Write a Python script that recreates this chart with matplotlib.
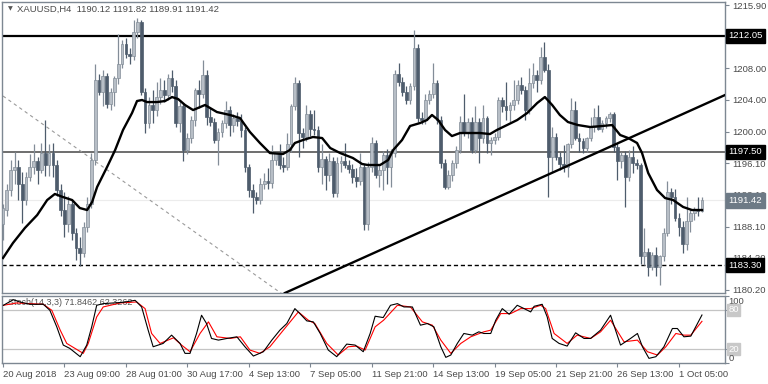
import matplotlib
matplotlib.use("Agg")
import matplotlib.pyplot as plt
import numpy as np
from matplotlib.transforms import blended_transform_factory

plt.rcParams['font.family'] = ['Liberation Sans', 'DejaVu Sans']

# ---------------- data (XAUUSD H4) ----------------
opens = [
    1188.5, 1190.2, 1192.7, 1195.2, 1195.6, 1193.5, 1191.5, 1194.4, 1195.6, 1196.3,
    1195.2, 1197.3, 1195.8, 1197.3, 1195.8, 1192.7, 1190.2, 1188.5, 1191.0, 1187.3,
    1185.4, 1184.8, 1188.1, 1191.0, 1196.5, 1206.5, 1205.0, 1207.0, 1203.5, 1205.0,
    1206.8, 1208.5, 1211.0, 1209.8, 1209.5, 1212.5, 1213.8, 1205.0, 1201.1, 1203.4,
    1202.7, 1204.4, 1205.2, 1204.6, 1206.7, 1205.7, 1201.1, 1203.2, 1197.7, 1199.2,
    1201.5, 1205.2, 1204.8, 1207.1, 1201.9, 1201.3, 1199.0, 1200.0, 1201.1, 1202.7,
    1200.9, 1201.7, 1201.4, 1200.2, 1195.6, 1192.7, 1191.9, 1191.5, 1193.5, 1193.8,
    1193.6, 1196.5, 1197.3, 1195.8, 1195.6, 1198.5, 1203.2, 1206.1, 1199.8, 1199.4,
    1202.3, 1200.4, 1200.2, 1195.6, 1196.6, 1194.6, 1196.3, 1192.3, 1196.1, 1196.4,
    1195.9, 1195.4, 1194.3, 1193.8, 1195.6, 1188.5, 1195.6, 1198.6, 1194.6, 1195.2,
    1197.1, 1195.6, 1197.3, 1207.3, 1206.3, 1205.0, 1204.0, 1205.7, 1210.5, 1201.7,
    1201.5, 1204.0, 1204.8, 1206.1, 1201.5, 1196.1, 1193.1, 1194.6, 1196.1, 1197.7,
    1201.3, 1199.8, 1201.3, 1197.7, 1201.3, 1199.2, 1201.7, 1198.6, 1199.0, 1199.4,
    1204.0, 1203.2, 1202.7, 1203.4, 1204.0, 1205.9, 1205.3, 1202.7, 1206.1, 1207.1,
    1206.5, 1209.4, 1207.8, 1196.9, 1199.4, 1196.9, 1196.0, 1195.6, 1198.5, 1202.7,
    1199.2, 1198.8, 1198.0, 1199.2, 1200.6, 1201.9, 1200.4, 1201.1, 1201.7, 1202.3,
    1198.1, 1196.3, 1197.1, 1194.4, 1196.9, 1196.1, 1195.8, 1184.4, 1185.0, 1183.1,
    1184.6, 1183.1, 1184.4, 1187.3, 1192.5, 1191.9, 1189.2, 1188.1, 1186.0, 1188.8,
    1189.8, 1190.2, 1190.12,
]
highs = [
    1191.0, 1193.5, 1196.5, 1197.5, 1196.5, 1195.0, 1195.0, 1197.2, 1198.5, 1196.8,
    1198.6, 1201.5, 1198.5, 1198.6, 1196.5, 1193.5, 1192.5, 1192.0, 1191.5, 1188.0,
    1186.8, 1188.7, 1191.9, 1197.3, 1208.5, 1207.2, 1207.7, 1207.4, 1205.5, 1207.0,
    1212.3, 1211.5, 1211.8, 1210.5, 1214.0, 1214.3, 1214.0, 1205.5, 1204.4, 1205.2,
    1206.3, 1206.7, 1206.5, 1207.3, 1207.8, 1206.5, 1204.0, 1203.6, 1199.8, 1202.0,
    1205.5, 1206.5, 1209.0, 1207.8, 1203.0, 1201.8, 1200.5, 1201.5, 1203.9, 1203.2,
    1202.3, 1202.5, 1202.3, 1200.6, 1196.0, 1193.5, 1192.5, 1194.2, 1194.8, 1195.5,
    1198.3, 1197.5, 1198.5, 1196.8, 1199.8, 1203.5, 1206.9, 1206.5, 1200.5, 1203.4,
    1202.8, 1202.7, 1200.8, 1198.5, 1197.0, 1197.3, 1196.8, 1196.9, 1197.0, 1198.6,
    1196.5, 1196.0, 1195.5, 1197.3, 1196.0, 1196.2, 1199.4, 1199.0, 1195.8, 1197.6,
    1197.8, 1197.8, 1207.8, 1208.6, 1206.9, 1205.7, 1206.1, 1212.8, 1211.0, 1202.5,
    1204.8, 1205.3, 1208.6, 1206.5, 1202.0, 1196.6, 1195.2, 1196.5, 1198.2, 1202.0,
    1204.8, 1201.7, 1201.9, 1203.2, 1201.7, 1203.4, 1202.0, 1199.4, 1199.8, 1204.4,
    1204.4, 1206.3, 1203.8, 1206.5, 1206.5, 1206.9, 1205.8, 1208.0, 1208.6, 1207.8,
    1210.7, 1211.3, 1208.5, 1200.6, 1199.8, 1197.5, 1198.3, 1198.6, 1204.2, 1203.9,
    1199.8, 1199.2, 1199.4, 1201.9, 1203.0, 1203.4, 1201.5, 1202.0, 1202.5, 1202.5,
    1198.6, 1197.5, 1197.6, 1197.7, 1198.2, 1196.6, 1196.1, 1187.9, 1185.5, 1185.0,
    1185.6, 1184.6, 1188.0, 1193.8, 1193.0, 1192.8, 1189.8, 1188.8, 1191.9, 1190.4,
    1190.6, 1191.9, 1191.82,
]
lows = [
    1186.5, 1189.5, 1192.0, 1193.5, 1191.5, 1188.6, 1190.8, 1193.8, 1194.7, 1193.5,
    1194.8, 1194.5, 1194.5, 1194.3, 1192.0, 1189.5, 1186.8, 1187.5, 1186.5, 1183.9,
    1183.2, 1184.3, 1187.5, 1190.5, 1195.8, 1204.6, 1203.3, 1203.0, 1202.8, 1203.2,
    1206.0, 1208.0, 1209.2, 1208.5, 1209.0, 1211.8, 1204.6, 1199.8, 1200.5, 1201.1,
    1202.0, 1203.5, 1203.8, 1204.0, 1205.0, 1200.6, 1200.0, 1196.3, 1197.2, 1198.6,
    1200.8, 1203.0, 1204.2, 1200.9, 1200.8, 1198.6, 1195.9, 1199.3, 1200.5, 1199.5,
    1200.0, 1200.8, 1199.3, 1195.0, 1191.9, 1189.8, 1191.0, 1191.0, 1192.8, 1192.9,
    1193.0, 1195.8, 1195.4, 1195.0, 1195.2, 1197.5, 1202.7, 1196.9, 1198.0, 1198.8,
    1199.5, 1199.6, 1195.0, 1193.5, 1192.7, 1193.9, 1191.9, 1191.9, 1195.0, 1195.5,
    1194.8, 1193.6, 1193.1, 1193.4, 1187.7, 1187.7, 1195.0, 1194.2, 1193.1, 1192.7,
    1193.5, 1193.1, 1196.8, 1205.8, 1204.5, 1203.5, 1203.5, 1205.3, 1201.3, 1201.0,
    1201.0, 1203.5, 1204.2, 1201.0, 1195.5, 1192.9, 1192.9, 1193.8, 1195.5, 1197.3,
    1199.5, 1199.2, 1197.3, 1197.3, 1196.1, 1198.6, 1197.3, 1197.1, 1198.5, 1199.0,
    1202.5, 1201.5, 1201.3, 1202.8, 1203.5, 1204.8, 1201.5, 1202.3, 1205.5, 1205.0,
    1206.0, 1207.5, 1191.9, 1195.0, 1196.5, 1195.2, 1195.0, 1194.4, 1198.0, 1199.0,
    1197.5, 1197.3, 1197.5, 1198.8, 1200.0, 1200.2, 1200.0, 1200.5, 1201.2, 1197.5,
    1194.0, 1195.5, 1190.6, 1193.9, 1194.8, 1195.4, 1183.5, 1183.3, 1181.9, 1182.7,
    1181.9, 1180.8, 1183.8, 1186.9, 1191.0, 1188.8, 1186.9, 1184.8, 1185.2, 1187.5,
    1188.9, 1189.5, 1189.91,
]
closes = [
    1190.5, 1192.7, 1195.2, 1195.6, 1193.5, 1191.5, 1194.4, 1195.6, 1196.3, 1195.2,
    1197.3, 1195.8, 1197.3, 1195.8, 1192.7, 1190.2, 1188.5, 1191.0, 1187.3, 1185.4,
    1184.8, 1188.1, 1191.0, 1196.5, 1206.5, 1205.0, 1207.0, 1203.5, 1205.0, 1206.8,
    1208.5, 1211.0, 1209.8, 1209.5, 1212.5, 1213.8, 1205.0, 1201.1, 1203.4, 1202.7,
    1204.4, 1205.2, 1204.6, 1206.7, 1205.7, 1201.1, 1203.2, 1197.7, 1199.2, 1201.5,
    1205.2, 1204.8, 1207.1, 1201.9, 1201.3, 1199.0, 1200.0, 1201.1, 1202.7, 1200.9,
    1201.7, 1201.4, 1200.2, 1195.6, 1192.7, 1191.9, 1191.5, 1193.5, 1193.8, 1193.6,
    1196.5, 1197.3, 1195.8, 1195.6, 1198.5, 1203.2, 1206.1, 1199.8, 1199.4, 1202.3,
    1200.4, 1200.2, 1195.6, 1196.6, 1194.6, 1196.3, 1192.3, 1196.1, 1196.4, 1195.9,
    1195.4, 1194.3, 1193.8, 1195.6, 1188.5, 1195.6, 1198.6, 1194.6, 1195.2, 1197.1,
    1195.6, 1197.3, 1207.3, 1206.3, 1205.0, 1204.0, 1205.7, 1210.5, 1201.7, 1201.5,
    1204.0, 1204.8, 1206.1, 1201.5, 1196.1, 1193.1, 1194.6, 1196.1, 1197.7, 1201.3,
    1199.8, 1201.3, 1197.7, 1201.3, 1199.2, 1201.7, 1198.6, 1199.0, 1199.4, 1204.0,
    1203.2, 1202.7, 1203.4, 1204.0, 1205.9, 1205.3, 1202.7, 1206.1, 1207.1, 1206.5,
    1209.4, 1207.8, 1196.9, 1199.4, 1196.9, 1196.0, 1195.6, 1198.5, 1202.7, 1199.2,
    1198.8, 1198.0, 1199.2, 1200.6, 1201.9, 1200.4, 1201.1, 1201.7, 1202.3, 1198.1,
    1196.3, 1197.1, 1194.4, 1196.9, 1196.1, 1195.8, 1184.4, 1185.0, 1183.1, 1184.6,
    1183.1, 1184.4, 1187.3, 1192.5, 1191.9, 1189.2, 1188.1, 1186.0, 1188.8, 1189.8,
    1190.2, 1190.1, 1191.42,
]

# moving average: bar position, price
ma_bar = [0, 2.6, 5.7, 8.9, 11.5, 13.5, 15.6, 18, 20, 21.9, 23.2, 24.5, 27.1, 29.2,
          31.25, 33.6, 34.9, 36.2, 37.5, 40.1, 42.2, 44, 45.6, 47.4, 49.5, 52.6,
          55.7, 59.1, 61.7, 64.3, 66.9, 69.5, 72.9, 74.7, 76, 78.1, 80.7, 83.1,
          85.2, 87.8, 91.1, 93.5, 95, 98.2, 100.3, 101.6, 103.9, 106, 108.6, 110.4,
          111.7, 113.3, 115.1, 116.9, 119, 124.2, 126.8, 128.6, 131.25, 133.9,
          136.5, 139.1, 141.1, 143, 145, 147.1, 149.7, 152.9, 156, 158.6, 160.7,
          162.8, 165.1, 166.4, 168, 170.3, 172.4, 174.5, 177.1, 179.4, 182]
ma_val = [1184.20, 1186.08, 1187.96, 1189.58, 1191.46, 1192.22, 1191.84, 1191.46,
          1190.46, 1190.21, 1191.21, 1193.09, 1195.60, 1197.73, 1200.24, 1202.37,
          1203.87, 1204.00, 1203.74, 1203.74, 1203.87, 1204.37, 1204.12, 1203.37,
          1202.74, 1203.37, 1202.49, 1202.12, 1201.74, 1199.99, 1198.61, 1197.35,
          1197.23, 1197.73, 1198.61, 1198.98, 1199.36, 1199.23, 1197.98, 1197.35,
          1196.73, 1195.98, 1195.85, 1195.85, 1196.48, 1197.73, 1198.98, 1200.74,
          1201.11, 1201.49, 1202.12, 1201.49, 1200.24, 1199.48, 1199.86, 1199.86,
          1199.73, 1200.24, 1200.86, 1201.49, 1202.37, 1203.62, 1204.37, 1203.37,
          1202.12, 1201.24, 1200.86, 1200.61, 1200.74, 1200.86, 1199.61, 1199.23,
          1198.61, 1197.35, 1194.85, 1192.72, 1191.71, 1191.46, 1190.59, 1190.21,
          1190.21]

# stochastic %K (black) and %D (red)
k_bar = [0.1, 2.7, 4.4, 7.0, 10.5, 12.2, 14.0, 15.7, 17.4, 20.1, 21.8, 23.1, 24.4,
         26.1, 28.7, 31.3, 34.4, 36.1, 37.8, 39.1, 41.7, 43.9, 46.1, 47.4, 48.7,
         50.4, 51.7, 53.0, 54.3, 56.1, 58.3, 60.9, 63.0, 65.2, 67.8, 70.0, 72.1,
         73.9, 76.0, 77.3, 79.1, 80.8, 82.6, 84.7, 86.9, 89.5, 91.7, 93.8, 95.6,
         96.9, 99.0, 100.9, 102.7, 104.4, 106.6, 108.7, 110.5, 112.2, 114.0, 115.3,
         116.6, 118.3, 120.0, 122.2, 123.9, 125.2, 127.0, 128.3, 130.0, 131.8,
         133.9, 135.7, 137.4, 138.3, 140.4, 141.7, 143.0, 144.8, 146.9, 149.1,
         151.3, 153.0, 155.6, 158.2, 160.8, 163.4, 165.2, 166.5, 168.2, 170.0,
         172.1, 174.3, 175.6, 177.3, 179.1, 182]
k_val = [86.5, 95, 91.5, 88, 88, 79, 54, 26.5, 21.5, 9, 26.5, 54, 86.5, 89, 90, 91,
         94, 84, 49, 24, 29, 41.5, 29, 14, 14, 44, 71.5, 59, 36.5, 34, 36.5, 39, 24,
         10, 16.5, 34, 49, 59, 81.5, 74, 63, 61.5, 44, 19, 9, 28, 26.5, 16.5, 44,
         70, 68, 86.5, 89, 84, 84, 56.5, 59, 54, 24, 8, 11.5, 29, 44, 41.5, 46.5,
         44, 44, 64, 81.5, 73, 86.5, 81.5, 76.5, 85, 88, 69, 36.5, 29, 25, 45,
         36.5, 36.5, 49, 71.5, 26.5, 36.5, 44, 24, 6.5, 9, 24, 51.5, 51.5, 39, 40,
         71.85]
d_bar = [0.1, 3.6, 10.5, 12.7, 14.9, 16.6, 20.9, 22.2, 24.4, 26.1, 30.5, 34.8,
         37.0, 38.7, 40.9, 44.4, 46.5, 48.7, 51.3, 53.5, 55.7, 59.2, 61.8, 64.3,
         66.9, 69.5, 73.0, 76.9, 79.5, 81.2, 84.3, 87.3, 89.9, 92.1, 94.3, 96.9,
         99.1, 102.7, 106.1, 109.2, 111.8, 114.0, 116.6, 119.2, 121.8, 125.2,
         127.0, 129.6, 132.2, 134.8, 137.4, 140.0, 141.3, 143.5, 146.9, 149.5,
         153.0, 155.6, 158.2, 161.7, 165.2, 167.8, 170.4, 172.6, 175.2, 177.3,
         179.1, 182]
d_val = [86.5, 90, 88, 79, 49, 29, 14, 29, 69, 84, 90, 91.5, 81.5, 44, 29, 37.5,
         26.5, 16.5, 44, 61.5, 39, 36.5, 39, 19, 14, 24, 49, 76.5, 64, 59, 29, 11.5,
         24, 25, 19, 54, 64, 86.5, 84, 61.5, 56.5, 34, 14, 29, 39, 46.5, 49, 74, 74,
         81.5, 81.5, 86.5, 81.5, 44, 29, 41.5, 36.5, 46.5, 64, 31.5, 34, 16.5, 11.5,
         24, 44, 41.5, 41.5, 62.33]

# horizontal levels, trend lines
resist_level = 1212.05
mid_level = 1197.50
support_level = 1183.30
last_price = 1191.42
trend_bars = [73.4, 188.0]
trend_vals = [1179.81, 1204.62]
diag_bars = [0.0, 75.0]
diag_vals = [1204.50, 1178.90]

price_ticks = [1215.90, 1212.00, 1208.00, 1204.00, 1200.00, 1196.10, 1192.10,
               1188.10, 1184.20, 1180.20]
price_tick_labels = ["1215.90", "", "1208.00", "1204.00", "1200.00", "1196.10",
                     "1192.10", "1188.10", "1184.20", "1180.20"]
date_ticks = [0, 16, 32, 48, 64, 80, 96, 112, 128, 144, 160, 176]
date_labels = ["20 Aug 2018", "23 Aug 09:00", "28 Aug 01:00", "30 Aug 17:00",
               "4 Sep 13:00", "7 Sep 05:00", "11 Sep 21:00", "14 Sep 13:00",
               "19 Sep 05:00", "21 Sep 21:00", "26 Sep 13:00", "1 Oct 05:00"]

# ---------------- drawing ----------------
W, H = 768, 384
fig = plt.figure(figsize=(W / 100, H / 100), dpi=100)
fig.patch.set_facecolor('white')
ax = fig.add_axes([2 / W, 1 - 293 / H, 723 / W, 291 / H])
ax2 = fig.add_axes([2 / W, 1 - 363 / H, 723 / W, 67 / H], sharex=ax)

frame_col = '#7d8792'
text_col = '#4a4a4a'
bull_fill = '#b7bec6'
bull_edge = '#838d98'
bear_col = '#4e5c6c'

o = np.array(opens); h = np.array(highs); l = np.array(lows); c = np.array(closes)
idx = np.arange(len(c))
up = c >= o

ax.axhline(last_price, color='#ececec', lw=0.8, zorder=0)
ax.vlines(idx[up], l[up], h[up], color=bull_edge, lw=0.9, zorder=2)
ax.vlines(idx[~up], l[~up], h[~up], color=bear_col, lw=0.9, zorder=2)
bh_up = np.maximum(c[up] - o[up], 0.12)
bh_dn = np.maximum(o[~up] - c[~up], 0.12)
ax.bar(idx[up], bh_up, bottom=o[up], width=0.72, color=bull_fill,
       edgecolor=bull_edge, lw=0.5, zorder=3)
ax.bar(idx[~up], bh_dn, bottom=c[~up], width=0.72, color=bear_col,
       edgecolor=bear_col, lw=0.5, zorder=3)

ax.plot(ma_bar, ma_val, color='black', lw=1.7, zorder=4)
ax.axhline(resist_level, color='black', lw=1.6, zorder=1)
ax.axhline(mid_level, color='#555555', lw=1.2, zorder=1)
ax.axhline(support_level, color='black', lw=1.0, ls=(0, (3, 2)), zorder=1)
ax.plot(trend_bars, trend_vals, color='black', lw=1.7, zorder=4)
ax.plot(diag_bars, diag_vals, color='#9a9a9a', lw=0.8, ls=(0, (3, 3)), zorder=1)

xmin, xmax = -0.26, 188.0
ax.set_xlim(xmin, xmax)
ax.set_ylim(1179.81, 1216.28)

for a in (ax, ax2):
    for s in a.spines.values():
        s.set_color(frame_col)
        s.set_linewidth(1.0)

ax.yaxis.tick_right()
ax.set_yticks(price_ticks)
ax.set_yticklabels(price_tick_labels)
ax.tick_params(axis='y', direction='out', length=3, width=0.8, color=frame_col,
               labelsize=6.8, labelcolor=text_col, pad=2)
ax.tick_params(axis='x', bottom=False, labelbottom=False)

tr = blended_transform_factory(ax.transAxes, ax.transData)
for val, fc in [(resist_level, 'black'), (mid_level, 'black'),
                (support_level, 'black'), (last_price, '#6d7a86')]:
    ax.text(1.0045, val, f"{val:.2f}", transform=tr, ha='left', va='center',
            fontsize=6.8, color='white', zorder=10, clip_on=False,
            bbox=dict(boxstyle='square,pad=0.28', fc=fc, ec=fc))

fig.text(8 / W, 1 - 9 / H, "\u25BC", fontsize=4.5, color='#555555',
         ha='left', va='center', family='DejaVu Sans')
fig.text(17 / W, 1 - 9 / H, "XAUUSD,H4  1190.12 1191.82 1189.91 1191.42",
         fontsize=6.8, color=text_col, ha='left', va='center')

# stochastic
ax2.axhline(80, color='#c4c4c4', lw=0.9, zorder=0)
ax2.axhline(20, color='#c4c4c4', lw=0.9, zorder=0)
ax2.plot(k_bar, k_val, color='black', lw=0.8, zorder=3)
ax2.plot(d_bar, d_val, color='#ff0000', lw=0.8, zorder=2)
ax2.set_ylim(-0.5, 100.5)
ax2.yaxis.tick_right()
ax2.set_yticks([0, 20, 80, 100])
ax2.set_yticklabels([])
ax2.tick_params(axis='y', direction='out', length=3, width=0.8, color=frame_col)
tr2 = blended_transform_factory(ax2.transAxes, ax2.transData)
ax2.text(1.0045, 92, "100", transform=tr2, ha='left', va='center', fontsize=6.8,
         color=text_col, clip_on=False)
ax2.text(1.0045, 80, "80", transform=tr2, ha='left', va='center', fontsize=6.8,
         color='white', clip_on=False,
         bbox=dict(boxstyle='square,pad=0.15', fc='#c8c8c8', ec='#c8c8c8'))
ax2.text(1.0045, 20, "20", transform=tr2, ha='left', va='center', fontsize=6.8,
         color='white', clip_on=False,
         bbox=dict(boxstyle='square,pad=0.15', fc='#c8c8c8', ec='#c8c8c8'))
ax2.text(1.0045, 6, "0", transform=tr2, ha='left', va='center', fontsize=6.8,
         color=text_col, clip_on=False)
ax2.text(6 / 723, 90, "Stoch(14,3,3) 71.8462 62.3262", transform=tr2,
         fontsize=6.5, color='#555555', ha='left', va='center', zorder=1)

ax2.set_xticks(date_ticks)
ax2.set_xticklabels(date_labels, ha='left')
ax2.tick_params(axis='x', direction='out', length=3, width=0.8, color=frame_col,
                labelsize=6.8, labelcolor=text_col, pad=2)
ax2.set_xlim(xmin, xmax)

fig.savefig('out.png', dpi=100, facecolor='white')
